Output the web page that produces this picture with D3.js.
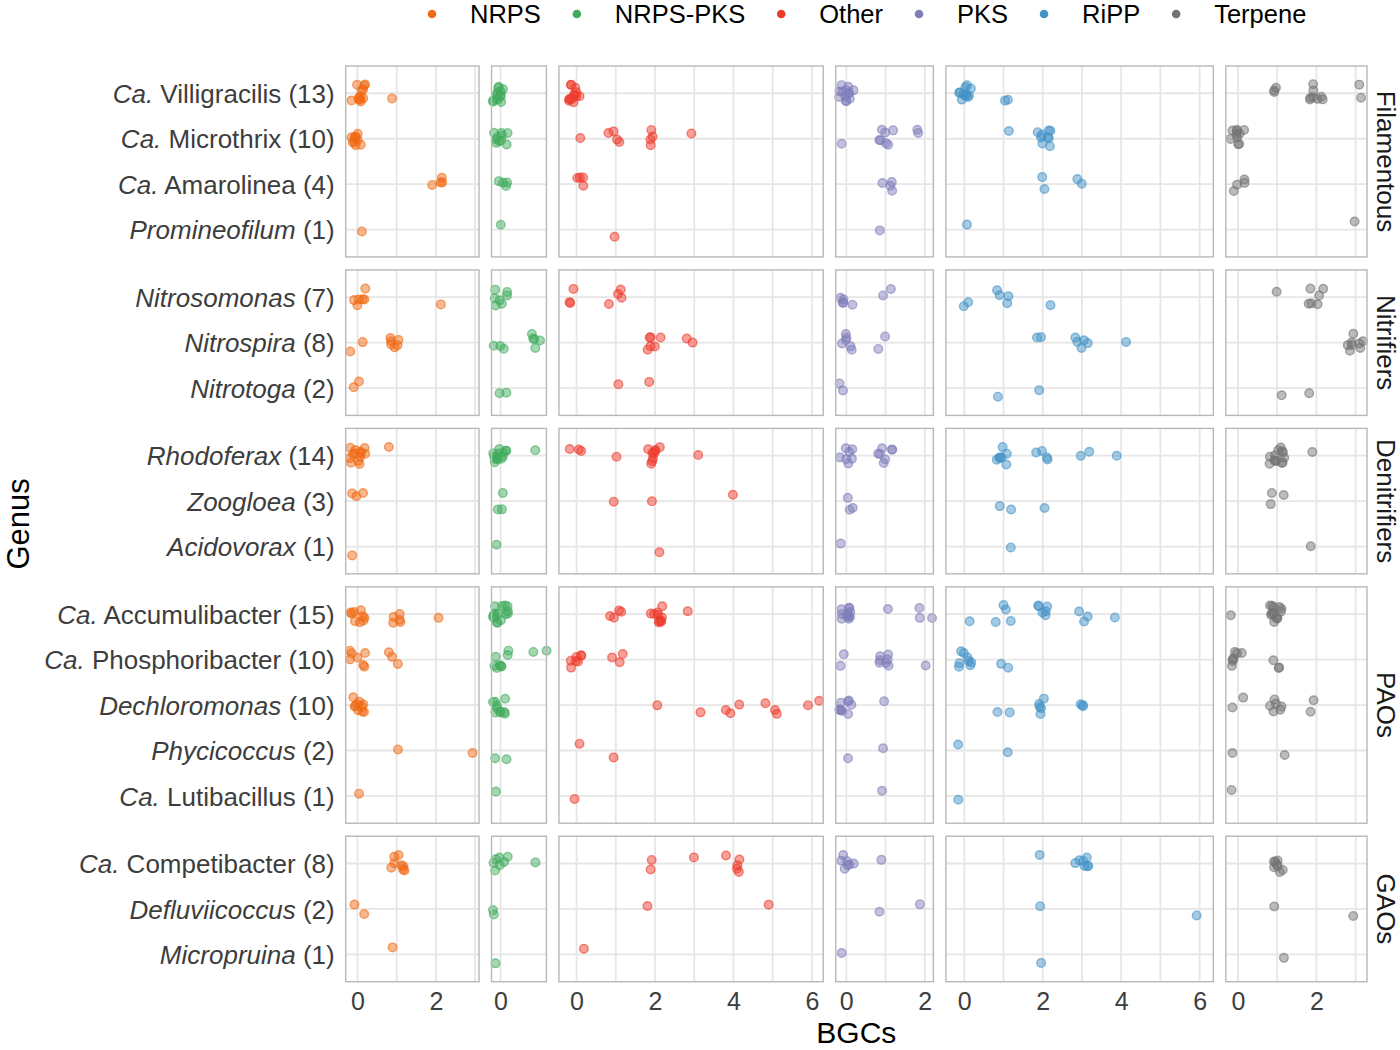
<!DOCTYPE html>
<html><head><meta charset="utf-8">
<script src="https://cdn.jsdelivr.net/npm/d3@7"></script>
<style>
body{margin:0;background:#fff}
text{font-family:"Liberation Sans",Arial,Helvetica,sans-serif}
</style>
</head><body>
<svg id="chart" width="1400" height="1050"></svg>
<script>
// ---------------- data ----------------
const classes = ["NRPS","NRPS-PKS","Other","PKS","RiPP","Terpene"];
const classColors = ["#f16913","#41ab5d","#ef3b2c","#807dba","#4292c6","#737373"];
const groups = ["Filamentous","Nitrifiers","Denitrifiers","PAOs","GAOs"];
const genusGroup = [0,0,0,0, 1,1,1, 2,2,2, 3,3,3,3,3, 4,4,4];
const genusPrefix = ["Ca.","Ca.","Ca.","", "","","", "","","", "Ca.","Ca.","","","Ca.", "Ca.","",""];
const genusNames = ["Villigracilis","Microthrix","Amarolinea","Promineofilum",
  "Nitrosomonas","Nitrospira","Nitrotoga",
  "Rhodoferax","Zoogloea","Acidovorax",
  "Accumulibacter","Phosphoribacter","Dechloromonas","Phycicoccus","Lutibacillus",
  "Competibacter","Defluviicoccus","Micropruina"];
const genusCounts = [13,10,4,1, 7,8,2, 14,3,1, 15,10,10,2,1, 8,2,1];
const xDomains = [[-0.30,3.10],[-0.23,1.17],[-0.45,6.29],[-0.27,2.22],[-0.47,6.35],[-0.31,3.29]];
const xTickLabels = [[0,2],[0],[0,2,4,6],[0,2],[0,2,4,6],[0,2]];

// BGC counts per genome, one array per genus (genus order as above)
const bgcNRPS = [
  [0,0,0,0,0,0,0,0,0,0,0,0,1],
  [0,0,0,0,0,0,0,0,0,0],
  [2,2,2,2],
  [0],
  [0,0,0,0,0,0,2],
  [0,0,1,1,1,1,1,1],
  [0,0],
  [0,0,0,0,0,0,0,0,0,0,0,0,0,1],
  [0,0,0],
  [0],
  [0,0,0,0,0,0,0,0,0,1,1,1,1,1,2],
  [0,0,0,0,0,0,0,1,1,1],
  [0,0,0,0,0,0,0,0,0,0],
  [1,3],
  [0],
  [1,1,1,1,1,1,1,1],
  [0,0],
  [1]
];
const bgcNRPSPKS = [
  [0,0,0,0,0,0,0,0,0,0,0,0,0],
  [0,0,0,0,0,0,0,0,0,0],
  [0,0,0,0],
  [0],
  [0,0,0,0,0,0,0],
  [0,0,0,1,1,1,1,1],
  [0,0],
  [0,0,0,0,0,0,0,0,0,0,0,0,0,1],
  [0,0,0],
  [0],
  [0,0,0,0,0,0,0,0,0,0,0,0,0,0,0],
  [0,0,0,0,0,0,0,0,1,1],
  [0,0,0,0,0,0,0,0,0,0],
  [0,0],
  [0],
  [0,0,0,0,0,0,0,1],
  [0,0],
  [0]
];
const bgcOther = [
  [0,0,0,0,0,0,0,0,0,0,0,0,0],
  [0,1,1,1,1,2,2,2,2,3],
  [0,0,0,0],
  [1],
  [0,0,0,1,1,1,1],
  [2,2,2,2,2,2,3,3],
  [1,2],
  [0,0,0,1,2,2,2,2,2,2,2,2,2,3],
  [1,2,4],
  [2],
  [1,1,1,1,2,2,2,2,2,2,2,2,2,2,3],
  [0,0,0,0,0,0,0,1,1,1],
  [2,3,4,4,4,5,5,5,6,6],
  [0,1],
  [0],
  [2,2,3,4,4,4,4,4],
  [2,5],
  [0]
];
const bgcPKS = [
  [0,0,0,0,0,0,0,0,0,0,0,0,0],
  [0,1,1,1,1,1,1,1,2,2],
  [1,1,1,1],
  [1],
  [0,0,0,0,0,1,1],
  [0,0,0,0,0,0,1,1],
  [0,0],
  [0,0,0,0,0,0,0,1,1,1,1,1,1,1],
  [0,0,0],
  [0],
  [0,0,0,0,0,0,0,0,0,0,0,1,2,2,2],
  [0,0,1,1,1,1,1,1,1,2],
  [0,0,0,0,0,0,0,0,0,1],
  [0,1],
  [1],
  [0,0,0,0,0,0,0,1],
  [1,2],
  [0]
];
const bgcRiPP = [
  [0,0,0,0,0,0,0,0,0,0,0,1,1],
  [1,2,2,2,2,2,2,2,2,2],
  [2,2,3,3],
  [0],
  [0,0,1,1,1,1,2],
  [2,2,3,3,3,3,3,4],
  [1,2],
  [1,1,1,1,1,1,1,2,2,2,2,3,3,4],
  [1,1,2],
  [1],
  [0,1,1,1,1,2,2,2,2,2,2,3,3,3,4],
  [0,0,0,0,0,0,0,0,1,1],
  [1,1,2,2,2,2,2,3,3,3],
  [0,1],
  [0],
  [2,3,3,3,3,3,3,3],
  [2,6],
  [2]
];
const bgcTerpene = [
  [1,1,1,2,2,2,2,2,2,2,2,3,3],
  [0,0,0,0,0,0,0,0,0,0],
  [0,0,0,0],
  [3],
  [1,2,2,2,2,2,2],
  [3,3,3,3,3,3,3,3],
  [1,2],
  [1,1,1,1,1,1,1,1,1,1,1,1,1,2],
  [1,1,1],
  [2],
  [0,1,1,1,1,1,1,1,1,1,1,1,1,1,1],
  [0,0,0,0,0,0,0,1,1,1],
  [0,0,1,1,1,1,1,1,2,2],
  [0,1],
  [0],
  [1,1,1,1,1,1,1,1],
  [1,3],
  [1]
];
const bgcByClass = [bgcNRPS,bgcNRPSPKS,bgcOther,bgcPKS,bgcRiPP,bgcTerpene];

// ---------------- layout ----------------
const svg = d3.select("#chart");
const plotL = 345.7, plotR = 1367, plotT = 66, plotB = 981.7, colGap = 12.5, rowGap = 13;
const totalUnits = d3.sum(xDomains, d => d[1]-d[0]);
const pxX = (plotR - plotL - colGap*(classes.length-1)) / totalUnits;
let cx = plotL;
const xScales = xDomains.map(d => {
  const w = (d[1]-d[0])*pxX;
  const s = d3.scaleLinear().domain(d).range([cx, cx+w]);
  cx += w + colGap; return s;
});
const rowGenera = groups.map((g,i) => genusNames.map((n,j)=>j).filter(j => genusGroup[j]===i));
const totalRowUnits = d3.sum(rowGenera, r => r.length + 0.2);
const pxY = (plotB - plotT - rowGap*(groups.length-1)) / totalRowUnits;
let cy = plotT;
const yScales = rowGenera.map(r => {
  const h = (r.length+0.2)*pxY;
  const s = d3.scalePoint().domain(r).range([cy, cy+h]).padding(0.6);
  cy += h + rowGap; return s;
});

// grid + panels
const gGrid = svg.append("g");
groups.forEach((g, ri) => {
  const ys = yScales[ri];
  const [y0, y1] = ys.range();
  classes.forEach((c, ci) => {
    const xs = xScales[ci];
    const [x0, x1] = xs.range();
    const d = xs.domain();
    const ints = d3.range(Math.ceil(d[0]), Math.floor(d[1])+1).filter(v => !(ci===1 && v!==0));
    gGrid.selectAll(null).data(ints).enter().append("line")
      .attr("x1", v => xs(v)).attr("x2", v => xs(v)).attr("y1", y0).attr("y2", y1)
      .attr("stroke", "#e6e6e6").attr("stroke-width", 1.8);
    gGrid.selectAll(null).data(ys.domain()).enter().append("line")
      .attr("x1", x0).attr("x2", x1).attr("y1", j => ys(j)).attr("y2", j => ys(j))
      .attr("stroke", "#e6e6e6").attr("stroke-width", 1.8);
  });
});

// points (jittered, deterministic seed)
const rng = d3.randomLcg(0.4271);
const jit = () => (rng()*2 - 1) * 0.2;
const gPts = svg.append("g");
bgcByClass.forEach((arr, ci) => {
  const pts = [];
  arr.forEach((vals, j) => vals.forEach(v => pts.push({j, v, jx: jit(), jy: jit()})));
  gPts.selectAll(null).data(pts).enter().append("circle")
    .attr("cx", p => xScales[ci](p.v + p.jx))
    .attr("cy", p => yScales[genusGroup[p.j]](p.j) + p.jy*pxY)
    .attr("r", 4.3)
    .attr("fill", classColors[ci]).attr("fill-opacity", 0.48)
    .attr("stroke", classColors[ci]).attr("stroke-opacity", 0.6).attr("stroke-width", 1.4);
});

// borders
const gBorder = svg.append("g");
groups.forEach((g, ri) => {
  const [y0, y1] = yScales[ri].range();
  classes.forEach((c, ci) => {
    const [x0, x1] = xScales[ci].range();
    gBorder.append("rect").attr("x", x0).attr("y", y0).attr("width", x1-x0).attr("height", y1-y0)
      .attr("fill", "none").attr("stroke", "#b8b8b8").attr("stroke-width", 1.4);
  });
});

// x axes
classes.forEach((c, ci) => {
  const ax = svg.append("g").attr("transform", `translate(0,${plotB})`)
    .call(d3.axisBottom(xScales[ci]).tickValues(xTickLabels[ci]).tickSize(0).tickPadding(11).tickFormat(d3.format("d")));
  ax.select(".domain").remove();
  ax.selectAll("text").attr("font-size", 25).attr("fill", "#3d3d3d")
    .attr("font-family", '"Liberation Sans",Arial,sans-serif');
});

// y axes with mixed italic labels
groups.forEach((g, ri) => {
  const ax = svg.append("g").attr("transform", `translate(${plotL},0)`)
    .call(d3.axisLeft(yScales[ri]).tickSize(0).tickPadding(11));
  ax.select(".domain").remove();
  ax.selectAll("text").attr("font-size", 26).attr("fill", "#3d3d3d").attr("dy", "0.35em")
    .attr("font-family", '"Liberation Sans",Arial,sans-serif')
    .each(function(j) {
      const t = d3.select(this).text("");
      if (genusPrefix[j]) {
        t.append("tspan").attr("font-style", "italic").text(genusPrefix[j]);
        t.append("tspan").text(" " + genusNames[j] + " (" + genusCounts[j] + ")");
      } else {
        t.append("tspan").attr("font-style", "italic").text(genusNames[j]);
        t.append("tspan").text(" (" + genusCounts[j] + ")");
      }
    });
});

// strip labels
groups.forEach((g, ri) => {
  const [y0, y1] = yScales[ri].range();
  const ym = (y0+y1)/2, xm = plotR + 19;
  svg.append("text").attr("transform", `translate(${xm},${ym}) rotate(90)`)
    .attr("text-anchor", "middle").attr("dy", "0.35em")
    .attr("font-size", 26).attr("fill", "#1a1a1a").text(g);
});

// axis titles
svg.append("text").attr("x", (plotL+plotR)/2).attr("y", 1043).attr("text-anchor", "middle")
  .attr("font-size", 30).attr("fill", "#000").text("BGCs");
svg.append("text").attr("transform", `translate(18,${(plotT+plotB)/2}) rotate(-90)`)
  .attr("text-anchor", "middle").attr("dy", "0.35em")
  .attr("font-size", 31).attr("fill", "#000").text("Genus");

// legend
const gLeg = svg.append("g");
let lx = 432;
classes.forEach((c, ci) => {
  gLeg.append("circle").attr("cx", lx).attr("cy", 14).attr("r", 4.3).attr("fill", classColors[ci]);
  const t = gLeg.append("text").attr("x", lx + 38).attr("y", 14).attr("dy", "0.35em")
    .attr("font-size", 25.5).attr("fill", "#000").text(c);
  lx = lx + 38 + t.node().getComputedTextLength() + 36;
});
</script>
</body></html>
